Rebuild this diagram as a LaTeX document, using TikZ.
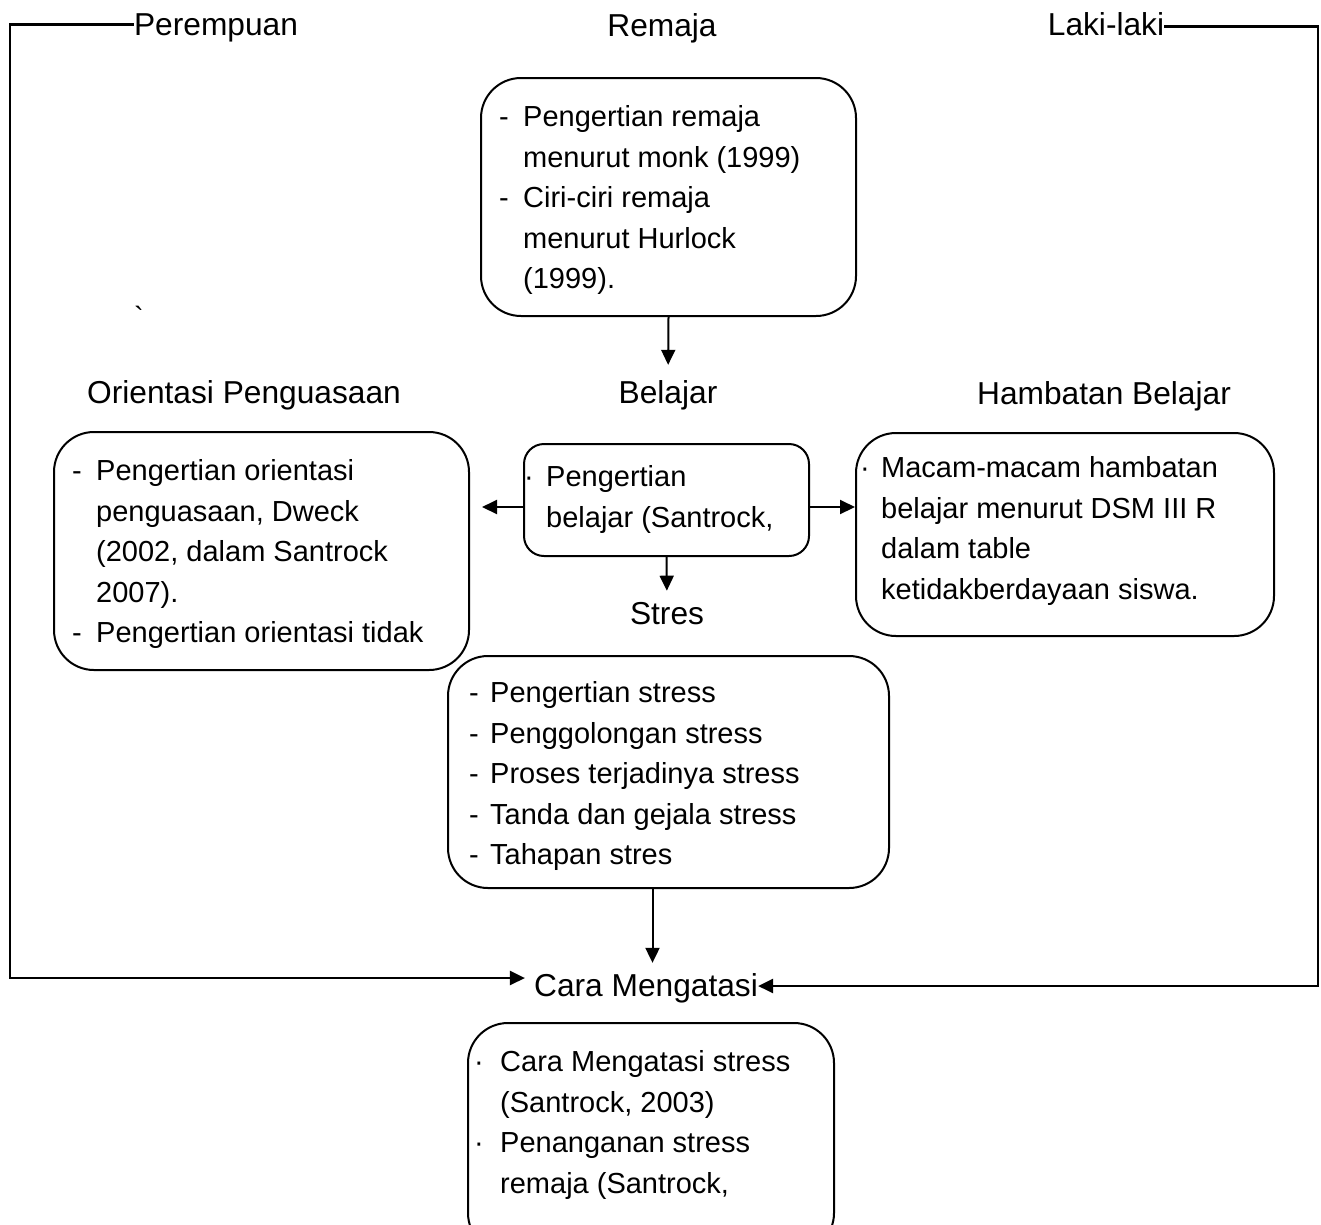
\documentclass[tikz,border=0pt]{standalone}
\usepackage{fontspec}
\setmainfont{Liberation Sans}
\usetikzlibrary{arrows.meta}
\newcommand\markitem[2]{\makebox[#1][l]{#2}}

\begin{document}
\begin{tikzpicture}[x=1pt, y=-1pt, every node/.style={inner sep=0pt},
  heading/.style={font=\fontsize{31.7}{38}\selectfont, anchor=base},
  body/.style={font=\fontsize{29}{40.5}\selectfont, align=left, anchor=north west},
  frame/.style={draw, line width=2pt, rounded corners=40pt, anchor=north west},
  link/.style={line width=2pt, -{Triangle[length=15pt,width=14pt]}},
  side/.style={line width=2.4pt, -{Triangle[length=15pt,width=14pt]}}]
  \useasboundingbox (0,0) rectangle (1321,1224);
  \clip (0,0) rectangle (1321,1224);

  % headings
  \node[heading] (perempuan) at (216,35) {Perempuan};
  \node[heading] (remaja) at (662,36) {Remaja};
  \node[heading] (lakilaki) at (1106,35) {Laki-laki};
  \node[heading] (orientasi) at (244,403) {Orientasi Penguasaan};
  \node[heading] (belajar) at (668,403) {Belajar};
  \node[heading] (hambatan) at (1104,404) {Hambatan Belajar};
  \node[heading] (stres) at (667,624) {Stres};
  \node[heading, inner ysep=10pt] (cara) at (646,996) {Cara Mengatasi};
  \node[body, anchor=base] (grave) at (139,327) {\textasciigrave};

  % boxes
  \node[frame, minimum width=375pt, minimum height=238pt] (remajabox) at (480,77) {};
  \node[frame, minimum width=415pt, minimum height=238pt] (orientbox) at (53,431) {};
  \node[frame, rounded corners=20pt, minimum width=285pt, minimum height=112pt] (belajarbox) at (523,443) {};
  \node[frame, minimum width=418pt, minimum height=203pt] (hambatanbox) at (855,432) {};
  \node[frame, minimum width=441pt, minimum height=232pt] (stresbox) at (447,655) {};
  \node[frame, minimum width=366pt, minimum height=230pt] (carabox) at (467,1022) {};

  % box texts
  \node[body] (remajatext) at (499,98) {\strut\markitem{24pt}{-}Pengertian remaja\\
    \hspace*{24pt}menurut monk (1999)\\
    \markitem{24pt}{-}Ciri-ciri remaja\\
    \hspace*{24pt}menurut Hurlock\\
    \hspace*{24pt}(1999).};
  \node[body] (orienttext) at (72,452) {\strut\markitem{24pt}{-}Pengertian orientasi\\
    \hspace*{24pt}penguasaan, Dweck\\
    \hspace*{24pt}(2002, dalam Santrock\\
    \hspace*{24pt}2007).\\
    \markitem{24pt}{-}Pengertian orientasi tidak};
  \node[body] (belajartext) at (524,458) {\strut\markitem{22pt}{·}Pengertian\\
    \hspace*{22pt}belajar (Santrock,};
  \node[body] (hambatantext) at (860,449) {\strut\markitem{21pt}{·}Macam-macam hambatan\\
    \hspace*{21pt}belajar menurut DSM III R\\
    \hspace*{21pt}dalam table\\
    \hspace*{21pt}ketidakberdayaan siswa.};
  \node[body] (strestext) at (469,674) {\strut\markitem{21pt}{-}Pengertian stress\\
    \markitem{21pt}{-}Penggolongan stress\\
    \markitem{21pt}{-}Proses terjadinya stress\\
    \markitem{21pt}{-}Tanda dan gejala stress\\
    \markitem{21pt}{-}Tahapan stres};
  \node[body] (caratext) at (474,1043) {\strut\markitem{26pt}{·}Cara Mengatasi stress\\
    \hspace*{26pt}(Santrock, 2003)\\
    \markitem{26pt}{·}Penanganan stress\\
    \hspace*{26pt}remaja (Santrock,};

  % connectors
  \coordinate (bl) at (10,978);
  \coordinate (br) at (1318,986);
  \coordinate (pw) at ([yshift=3pt]perempuan.west);
  \coordinate (le) at ([yshift=-3pt]lakilaki.east);
  \coordinate (bw) at ([yshift=-7pt]belajarbox.west);
  \coordinate (be) at ([yshift=-7pt]belajarbox.east);
  \coordinate (sb) at ([xshift=-16pt]stresbox.south);
  \draw[side, shorten >=9pt] (pw) -| (bl) -- (bl -| cara.west);
  \draw[side] (le) -| (br) -- (br -| cara.east);
  \draw[link, shorten >=15pt] (remajabox.south) -- (belajar.north);
  \draw[link, shorten >=12pt] (bw) -- (bw -| orientbox.east);
  \draw[link] (be) -- (be -| hambatanbox.west);
  \draw[link, shorten >=11pt] (belajarbox.south) -- (stres.north);
  \draw[link] (sb) -- (sb |- cara.north);
\end{tikzpicture}
\end{document}
